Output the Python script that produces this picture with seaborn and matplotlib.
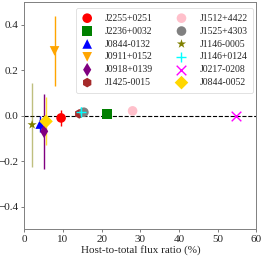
import matplotlib
matplotlib.use("Agg")
import matplotlib.pyplot as plt
import seaborn as sns
import pandas as pd

names = ["J2255+0251", "J2236+0032", "J0844-0132", "J0911+0152", "J0918+0139",
         "J1425-0015", "J1512+4422", "J1525+4303", "J1146-0005", "J1146+0124",
         "J0217-0208", "J0844-0052"]
x_vals = [9.5, 21.4, 4.1, 7.8, 5.1, 14.2, 28.0, 15.4, 2.0, 14.7, 54.8, 5.6]
y_vals = [-0.010, 0.006, -0.037, 0.285, -0.069, 0.008, 0.021, 0.015, -0.040, 0.016, 0.000, -0.025]
y_err = [0.037, 0.010, 0.035, 0.155, 0.165, 0.012, 0.008, 0.012, 0.185, 0.020, 0.005, 0.105]
colors = ["red", "green", "blue", "orange", "purple", "brown", "pink", "gray",
          "olive", "cyan", "magenta", "gold"]
markers = ["o", "s", "^", "v", "d", "h", "o", "o", "*", "+", "x", "D"]
err_alpha = [1, 1, 1, 1, 1, 1, 1, 1, 0.5, 1, 1, 0.8]

df = pd.DataFrame({"name": names, "x": x_vals, "y": y_vals})

sns.set_style("ticks")
plt.rcParams["font.family"] = ["Liberation Serif", "DejaVu Serif"]
plt.rcParams["mathtext.fontset"] = "dejavuserif"

fig, ax = plt.subplots(figsize=(2.65, 2.57), dpi=100)

for i, n in enumerate(names):
    ax.errorbar(x_vals[i], y_vals[i], yerr=y_err[i], fmt="none",
                ecolor=colors[i], alpha=err_alpha[i], elinewidth=1.0, zorder=2)

for i, n in enumerate(names):
    sub = df[df["name"] == n]
    lw = 1.0 if markers[i] in ("+", "x") else 0
    sns.scatterplot(data=sub, x="x", y="y", color=colors[i], marker=markers[i],
                    s=48, linewidth=lw, edgecolor=colors[i] if lw else "none",
                    ax=ax, zorder=3, label=n)

ax.axhline(0, color="black", ls="--", lw=0.8, zorder=1)
ax.set_xlim(0, 60)
ax.set_ylim(-0.5, 0.5)
ax.set_xticks([0, 10, 20, 30, 40, 50, 60])
ax.set_yticks([-0.4, -0.2, 0.0, 0.2, 0.4])
ax.set_xlabel("Host-to-total flux ratio (%)", fontsize=8, labelpad=1)
ax.set_ylabel("")
ax.tick_params(labelsize=8, length=2.5, width=0.6, pad=1.5, color="#666666")
for s in ax.spines.values():
    s.set_linewidth(0.7)
    s.set_color("#808080")

leg = ax.legend(ncol=2, loc="upper right", fontsize=7, markerscale=1.0,
                handlelength=1.0, handletextpad=1.35, columnspacing=2.4,
                labelspacing=0.4, borderpad=0.6, frameon=True,
                bbox_to_anchor=(1.013, 1.0), borderaxespad=0.6)
leg.get_frame().set_linewidth(0.5)

fig.subplots_adjust(left=0.092, right=0.967, top=0.992, bottom=0.108)
fig.savefig("out.png", dpi=100)
